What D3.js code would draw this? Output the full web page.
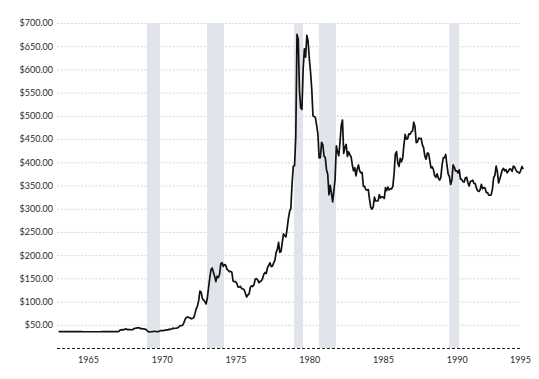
<!DOCTYPE html>
<html lang="en">

<head>
    <meta charset="UTF-8">
    <title>Gold Prices 1963 - 1995</title>
    <style>
        body {
            margin: 0;
            background: #fff;
        }

        .axis text {
            font: 9px Lato, sans-serif;
            fill: #2b2b2b;
        }

        .grid line {
            stroke: #d8d8d8;
            stroke-width: 1px;
            stroke-dasharray: 2, 1.5;
        }

        .recession {
            fill: #e1e5eb;
        }

        .baseline {
            stroke: #222;
            stroke-width: 1px;
            stroke-dasharray: 3, 2;
        }

        .price-line {
            fill: none;
            stroke: #111;
            stroke-width: 1.7px;
            stroke-linejoin: round;
        }
    </style>
</head>

<body>
    <div id="chart"></div>

    <script src="https://d3js.org/d3.v7.min.js"></script>
    <script>
        // monthly average gold price (USD/oz), first row starts in Nov 1963
        const priceYears = [1963, 1964, 1965, 1966, 1967, 1968, 1969, 1970, 1971, 1972, 1973,
            1974, 1975, 1976, 1977, 1978, 1979, 1980, 1981, 1982, 1983, 1984,
            1985, 1986, 1987, 1988, 1989, 1990, 1991, 1992, 1993, 1994, 1995];

        const monthlyPrices = [
            [35.1, 35.1],
            [35.1, 35.1, 35.1, 35.1, 35.1, 35.1, 35.1, 35.1, 35.1, 35.1, 35.1, 35.1],
            [35.1, 35.1, 35.1, 35.1, 35.1, 35.1, 35.0, 35.0, 35.0, 35.0, 35.0, 35.0],
            [35.0, 35.0, 35.0, 35.0, 35.0, 35.0, 35.0, 35.0, 35.0, 35.1, 35.1, 35.1],
            [35.1, 35.1, 35.1, 35.1, 35.1, 35.1, 35.1, 35.1, 35.2, 35.2, 35.3, 35.6],
            [38.5, 39.2, 39.6, 39.0, 40.6, 41.1, 39.6, 39.5, 39.6, 39.3, 39.4, 41.1],
            [42.4, 42.8, 43.3, 43.3, 43.5, 41.2, 41.9, 41.0, 40.8, 40.3, 37.4, 35.2],
            [34.9, 35.0, 35.1, 35.6, 35.9, 35.5, 35.3, 35.4, 36.2, 37.5, 37.4, 37.4],
            [37.9, 38.7, 38.9, 39.0, 40.5, 40.1, 41.0, 42.7, 42.0, 42.5, 42.9, 43.6],
            [45.8, 48.3, 48.3, 49.0, 54.6, 62.1, 65.7, 67.0, 65.5, 64.9, 62.9, 63.9],
            [65.1, 74.2, 84.4, 90.5, 102.0, 122.6, 120.2, 106.7, 103.0, 100.1, 94.8, 106.5],
            [129.2, 150.2, 168.4, 172.2, 163.1, 154.1, 142.9, 154.6, 151.8, 158.8, 181.7, 183.9],
            [175.8, 179.6, 178.2, 169.9, 167.4, 164.2, 165.2, 163.1, 144.2, 142.8, 142.9, 139.3],
            [131.6, 131.1, 132.6, 128.2, 126.9, 125.6, 117.9, 109.9, 114.2, 116.0, 130.3, 133.9],
            [132.3, 136.3, 148.3, 149.2, 146.6, 140.8, 143.6, 144.5, 149.5, 158.7, 162.6, 160.4],
            [173.3, 178.2, 183.6, 175.4, 176.3, 183.4, 188.6, 206.0, 212.5, 227.4, 206.0, 207.8],
            [227.3, 245.7, 242.1, 239.2, 257.6, 279.1, 294.4, 300.8, 355.1, 391.7, 392.5, 455.1],
            [675.3, 665.3, 553.6, 517.4, 513.8, 600.7, 644.3, 626.5, 673.6, 661.2, 623.5, 594.9],
            [557.5, 500.0, 498.8, 495.8, 479.7, 460.8, 409.3, 410.1, 443.1, 437.8, 413.4, 410.1],
            [384.1, 374.2, 330.0, 350.5, 333.5, 314.9, 339.0, 364.4, 435.2, 422.2, 414.1, 444.3],
            [479.8, 491.0, 419.1, 432.3, 438.4, 412.6, 422.6, 416.1, 412.0, 394.2, 381.7, 388.0],
            [370.8, 386.3, 394.2, 381.3, 377.3, 378.1, 348.3, 348.0, 341.0, 340.2, 341.2, 320.2],
            [302.6, 299.1, 304.0, 324.9, 316.6, 316.6, 317.1, 330.2, 323.2, 325.7, 325.3, 322.4],
            [345.4, 339.1, 346.5, 340.4, 342.6, 342.8, 348.6, 376.1, 418.3, 423.1, 398.5, 391.1],
            [408.4, 401.0, 409.0, 438.0, 460.2, 449.6, 450.6, 461.3, 460.2, 465.4, 467.4, 486.3],
            [476.6, 442.1, 443.6, 452.0, 451.1, 451.4, 437.6, 431.4, 413.4, 406.8, 419.8, 419.2],
            [404.0, 387.8, 390.2, 384.3, 371.0, 367.6, 375.0, 365.4, 361.8, 366.9, 393.9, 409.4],
            [410.1, 416.8, 393.1, 374.3, 369.1, 352.3, 361.9, 394.6, 389.0, 381.3, 381.7, 376.9],
            [383.7, 363.8, 363.3, 358.4, 357.4, 366.7, 367.7, 356.5, 348.8, 358.7, 359.9, 361.5],
            [354.4, 353.9, 344.3, 338.6, 337.2, 340.8, 352.7, 343.2, 345.4, 344.4, 335.0, 334.8],
            [329.0, 329.3, 330.1, 342.2, 367.2, 371.9, 392.0, 379.8, 355.5, 364.2, 373.8, 383.4],
            [387.0, 381.6, 384.1, 377.3, 381.4, 385.6, 385.5, 380.4, 391.6, 389.8, 384.4, 379.3],
            [378.6, 376.5, 382.1, 391.0, 385.2]
        ];

        // shaded recession periods (decimal years)
        const recessionStart = [1969.87, 1973.94, 1979.84, 1981.53, 1990.35];
        const recessionEnd = [1970.75, 1975.09, 1980.45, 1982.68, 1991.03];

        const yTickValues = [50, 100, 150, 200, 250, 300, 350, 400, 450, 500, 550, 600, 650, 700];
        const xTickYears = [1965, 1970, 1975, 1980, 1985, 1990, 1995];

        const width = 539,
            height = 379,
            plotLeft = 57,
            plotRight = 520,
            plotTop = 23,
            plotBottom = 348;

        const data = [];
        priceYears.forEach((year, i) => {
            const row = monthlyPrices[i];
            const firstMonth = i === 0 ? 12 - row.length : 0;
            row.forEach((price, j) => {
                data.push({ t: year + (firstMonth + j + 0.5) / 12, price: price });
            });
        });

        const x = d3.scaleLinear()
            .domain([1963.77, 1995.16])
            .range([plotLeft, plotRight]);

        const y = d3.scaleLinear()
            .domain([0, 700])
            .range([plotBottom, plotTop]);

        const svg = d3.select("#chart").append("svg")
            .attr("width", width)
            .attr("height", height);

        // grid
        svg.append("g")
            .attr("class", "grid")
            .selectAll("line")
            .data(yTickValues)
            .enter().append("line")
            .attr("x1", plotLeft)
            .attr("x2", plotRight)
            .attr("y1", d => y(d) + 0.5)
            .attr("y2", d => y(d) + 0.5);

        // recession bands
        svg.append("g")
            .selectAll("rect")
            .data(recessionStart.map((s, i) => [s, recessionEnd[i]]))
            .enter().append("rect")
            .attr("class", "recession")
            .attr("x", d => x(d[0]))
            .attr("width", d => x(d[1]) - x(d[0]))
            .attr("y", plotTop)
            .attr("height", plotBottom - plotTop);

        // zero line
        svg.append("line")
            .attr("class", "baseline")
            .attr("x1", plotLeft)
            .attr("x2", plotRight)
            .attr("y1", y(0) + 0.5)
            .attr("y2", y(0) + 0.5);

        const line = d3.line()
            .x(d => x(d.t))
            .y(d => y(d.price));

        svg.append("path")
            .datum(data)
            .attr("class", "price-line")
            .attr("d", line);

        // y axis labels
        const yAxis = svg.append("g")
            .attr("class", "axis")
            .attr("transform", `translate(${plotLeft - 2},0)`)
            .call(d3.axisLeft(y)
                .tickValues(yTickValues)
                .tickSize(0)
                .tickPadding(2)
                .tickFormat(d => "$" + d3.format(".2f")(d)));
        yAxis.select(".domain").remove();

        // x axis labels (tick sits near the end of each labelled year)
        const xAxis = svg.append("g")
            .attr("class", "axis")
            .attr("transform", `translate(0,${plotBottom})`)
            .call(d3.axisBottom(x)
                .tickValues(xTickYears.map(yr => yr + 0.87))
                .tickSize(0)
                .tickPadding(9)
                .tickFormat(d => Math.floor(d)));
        xAxis.select(".domain").remove();
        xAxis.selectAll(".tick:last-of-type text")
            .attr("text-anchor", "end");
    </script>
</body>

</html>
